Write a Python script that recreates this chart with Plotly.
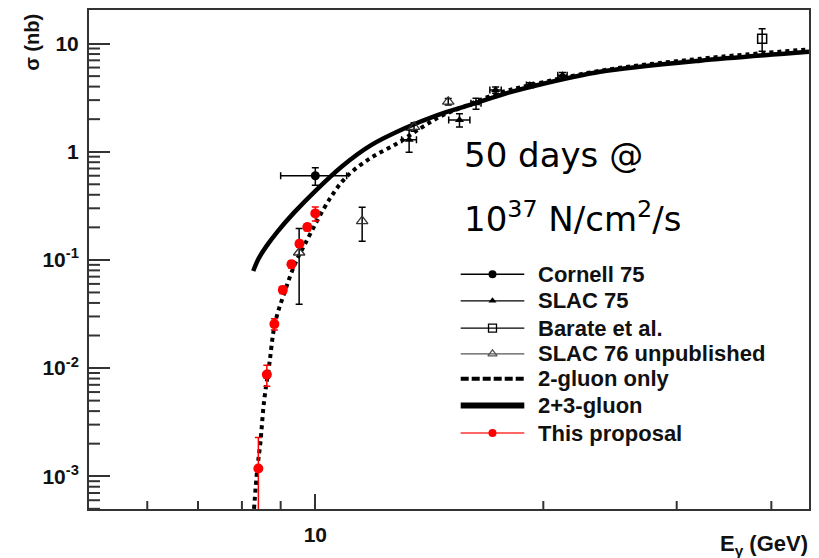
import plotly.graph_objects as go

# ---------------- data ----------------
# 2+3-gluon curve (solid)
curve23_E = [8.28, 8.41, 8.62, 8.92, 9.38, 10.02, 10.84, 11.82, 13.10, 14.50,
             16.05, 17.99, 19.62, 23.77, 32.21, 44.86]
curve23_sig = [0.0790, 0.1018, 0.1341, 0.1838, 0.2749, 0.4401, 0.7317, 1.140, 1.639,
               2.182, 2.726, 3.516, 4.122, 5.489, 6.944, 8.387]
# 2-gluon only curve (dotted)
curve2_E = [8.30, 8.38, 8.46, 8.56, 8.69, 8.85, 9.12, 9.40, 9.69, 10.46, 11.01, 11.81,
            12.82, 13.75, 14.61, 15.53, 17.53, 19.20, 23.77, 32.21, 44.86]
curve2_sig = [0.0005, 0.00114, 0.00202, 0.00502, 0.01054, 0.02624, 0.05171, 0.09167,
              0.1401, 0.3715, 0.5924, 0.8675, 1.192, 1.639, 2.113, 2.531, 3.516, 4.122,
              5.605, 7.230, 8.844]

cornell_E = [10.0]
cornell_Eerr = [1.0]
cornell_sig = [0.60]
cornell_err = [0.11]

slac75_E = [13.3, 15.5, 16.3, 17.3, 19.2, 21.2]
slac75_Eerr = [0.3, 0.5, 0.25, 0.3, 0.2, 0.3]
slac75_sig = [1.29, 1.97, 2.80, 3.72, 4.14, 5.1]
slac75_err = [0.30, 0.28, 0.33, 0.25, 0.2, 0.3]

barate_E = [38.9]
barate_sig = [11.1]
barate_err = [2.6]

slac76_E = [9.52, 11.53, 13.5, 14.98]
slac76_sig = [0.117, 0.228, 1.70, 2.90]
slac76_err = [0.078, 0.079, 0.15, 0.2]

prop_E = [8.41, 8.63, 8.83, 9.06, 9.30, 9.53, 9.76, 10.0]
prop_sig = [0.00118, 0.0087, 0.0255, 0.0528, 0.091, 0.141, 0.201, 0.269]
prop_err = [0.0011, 0.0019, 0.003, 0.004, 0.007, 0.01, 0.015, 0.04]

x_tickvals = [10]
x_ticktext = ["10"]
x_minor = [6, 7, 8, 9, 20, 30, 40]
y_tickvals = [0.001, 0.01, 0.1, 1, 10]
y_ticktext = ["10<sup>-3</sup>", "10<sup>-2</sup>", "10<sup>-1</sup>", "1", "10"]
y_minor = [0.0005, 0.0006, 0.0007, 0.0008, 0.0009,
           0.002, 0.003, 0.004, 0.005, 0.006, 0.007, 0.008, 0.009,
           0.02, 0.03, 0.04, 0.05, 0.06, 0.07, 0.08, 0.09,
           0.2, 0.3, 0.4, 0.5, 0.6, 0.7, 0.8, 0.9,
           2, 3, 4, 5, 6, 7, 8, 9]

legend_labels = ["Cornell 75", "SLAC 75", "Barate et al.", "SLAC 76 unpublished",
                 "2-gluon only", "2+3-gluon", "This proposal"]

# ---------------- layout helpers ----------------
W, H = 819, 558
L, R, T, B = 89, 809, 8, 509
FONT = "Liberation Sans, Arial, sans-serif"
TXT = "#111111"
AX = "#333333"
XR = [0.7012, 1.6518]
YR = [-3.3029, 1.3103]


def px(x):
    return (x - L) / (R - L)


def py(y):
    return (B - y) / (B - T)


fig = go.Figure()

# curves
fig.add_trace(go.Scatter(x=curve23_E, y=curve23_sig, mode="lines",
                         line=dict(color="black", width=4.5, shape="spline", smoothing=0.8),
                         showlegend=False, hoverinfo="skip"))
fig.add_trace(go.Scatter(x=curve2_E, y=curve2_sig, mode="lines",
                         line=dict(color="black", width=4, dash="dot", shape="spline"),
                         showlegend=False, hoverinfo="skip"))

err_style = dict(type="data", color="black", thickness=1.5, width=3.5)

fig.add_trace(go.Scatter(x=cornell_E, y=cornell_sig, mode="markers",
                         marker=dict(symbol="circle", size=9, color="black"),
                         error_y=dict(array=cornell_err, **err_style),
                         error_x=dict(array=cornell_Eerr, **err_style),
                         showlegend=False))
fig.add_trace(go.Scatter(x=slac75_E, y=slac75_sig, mode="markers",
                         marker=dict(symbol="triangle-up", size=8, color="black"),
                         error_y=dict(array=slac75_err, **err_style),
                         error_x=dict(array=slac75_Eerr, **err_style),
                         showlegend=False))
fig.add_trace(go.Scatter(x=barate_E, y=barate_sig, mode="markers",
                         marker=dict(symbol="square-open", size=9, color="black",
                                     line=dict(width=1.5)),
                         error_y=dict(array=barate_err, **err_style),
                         showlegend=False))
fig.add_trace(go.Scatter(x=slac76_E, y=slac76_sig, mode="markers",
                         marker=dict(symbol="triangle-up-open", size=10, color="#333333",
                                     line=dict(width=1.3)),
                         error_y=dict(array=slac76_err, **err_style),
                         showlegend=False))
fig.add_trace(go.Scatter(x=prop_E, y=prop_sig, mode="markers",
                         marker=dict(symbol="circle", size=10, color="#ff0000"),
                         error_y=dict(array=prop_err, type="data", color="#ff0000",
                                      thickness=1.5, width=3.5),
                         showlegend=False))

# ---------------- manual legend (overlay axes in plot-area fractions) ----------------
rows_y = [273.3, 300, 327.3, 353.3, 378.3, 405, 432.7]
lx0, lx1, lxm, ltx = 460.7, 524.3, 492.5, 536
leg_styles = [
    dict(line=dict(color="black", width=1.3), marker=dict(symbol="circle", size=8, color="black")),
    dict(line=dict(color="black", width=1.3), marker=dict(symbol="triangle-up", size=7, color="black")),
    dict(line=dict(color="black", width=1.3), marker=dict(symbol="square-open", size=8, color="black", line=dict(width=1.3))),
    dict(line=dict(color="#555555", width=1.3), marker=dict(symbol="triangle-up-open", size=8, color="#555555", line=dict(width=1.3))),
    dict(line=dict(color="black", width=4, dash="8px,3px"), marker=None),
    dict(line=dict(color="black", width=6), marker=None),
    dict(line=dict(color="#ff3333", width=1.5), marker=dict(symbol="circle", size=8, color="#ff0000")),
]
for yy, st in zip(rows_y, leg_styles):
    fig.add_trace(go.Scatter(x=[px(lx0), px(lx1)], y=[py(yy), py(yy)], mode="lines",
                             line=st["line"], xaxis="x2", yaxis="y2",
                             showlegend=False, hoverinfo="skip", cliponaxis=False))
    if st["marker"] is not None:
        fig.add_trace(go.Scatter(x=[px(lxm)], y=[py(yy)], mode="markers",
                                 marker=st["marker"], xaxis="x2", yaxis="y2",
                                 showlegend=False, hoverinfo="skip", cliponaxis=False))

annotations = []
for yy, lab in zip(rows_y, legend_labels):
    annotations.append(dict(x=px(ltx), y=py(yy), xref="paper", yref="paper",
                            text=lab, showarrow=False, xanchor="left", yanchor="middle",
                            font=dict(family=FONT, size=22, color=TXT, weight="bold")))

# axis titles
annotations.append(dict(x=px(32), y=py(41), xref="paper", yref="paper",
                        text="σ (nb)", textangle=-90, showarrow=False,
                        xanchor="center", yanchor="middle",
                        font=dict(family=FONT, size=20, color=TXT, weight="bold")))
annotations.append(dict(x=px(810), y=py(545), xref="paper", yref="paper",
                        text="E<sub>γ</sub> (GeV)", showarrow=False,
                        xanchor="right", yanchor="middle",
                        font=dict(family=FONT, size=22, color=TXT, weight="bold")))
# overlaid text
annotations.append(dict(x=px(462), y=py(154), xref="paper", yref="paper",
                        text="50 days @", showarrow=False, xanchor="left", yanchor="middle",
                        font=dict(family="DejaVu Sans", size=34, color="black")))
annotations.append(dict(x=px(462), y=py(216), xref="paper", yref="paper",
                        text="10<sup>37</sup> N/cm<sup>2</sup>/s", showarrow=False,
                        xanchor="left", yanchor="middle",
                        font=dict(family="DejaVu Sans", size=34, color="black")))

# minor ticks: short inward strokes placed on the data axes (pixel-sized lengths)
shapes = []
for v in x_minor:
    shapes.append(dict(type="line", xref="x", yref="y domain", x0=v, x1=v,
                       ysizemode="pixel", yanchor=0, y0=0, y1=8,
                       line=dict(color=AX, width=2), layer="above"))
for v in y_minor:
    shapes.append(dict(type="line", yref="y", xref="x domain", y0=v, y1=v,
                       xsizemode="pixel", xanchor=0, x0=0, x1=11,
                       line=dict(color=AX, width=2), layer="above"))

tickfont = dict(family=FONT, size=21, color=TXT, weight="bold")

fig.update_layout(
    width=W, height=H, autosize=False,
    margin=dict(l=L, r=W - R, t=T, b=H - B, pad=0),
    paper_bgcolor="white", plot_bgcolor="white",
    showlegend=False,
    annotations=annotations,
    shapes=shapes,
    xaxis=dict(type="log", range=XR, showgrid=False, zeroline=False,
               showline=True, linecolor=AX, linewidth=2, mirror=True,
               ticks="inside", ticklen=15, tickwidth=2, tickcolor=AX,
               tickmode="array", tickvals=x_tickvals, ticktext=x_ticktext,
               tickfont=tickfont, ticklabelstandoff=6),
    yaxis=dict(type="log", range=YR, showgrid=False, zeroline=False,
               showline=True, linecolor=AX, linewidth=2, mirror=True,
               ticks="inside", ticklen=21, tickwidth=2, tickcolor=AX,
               tickmode="array", tickvals=y_tickvals, ticktext=y_ticktext,
               tickfont=tickfont, ticklabelstandoff=4),
    xaxis2=dict(overlaying="x", range=[0, 1], visible=False, fixedrange=True),
    yaxis2=dict(overlaying="y", range=[0, 1], visible=False, fixedrange=True),
)

fig.write_html("out.html", config={"displayModeBar": False})
